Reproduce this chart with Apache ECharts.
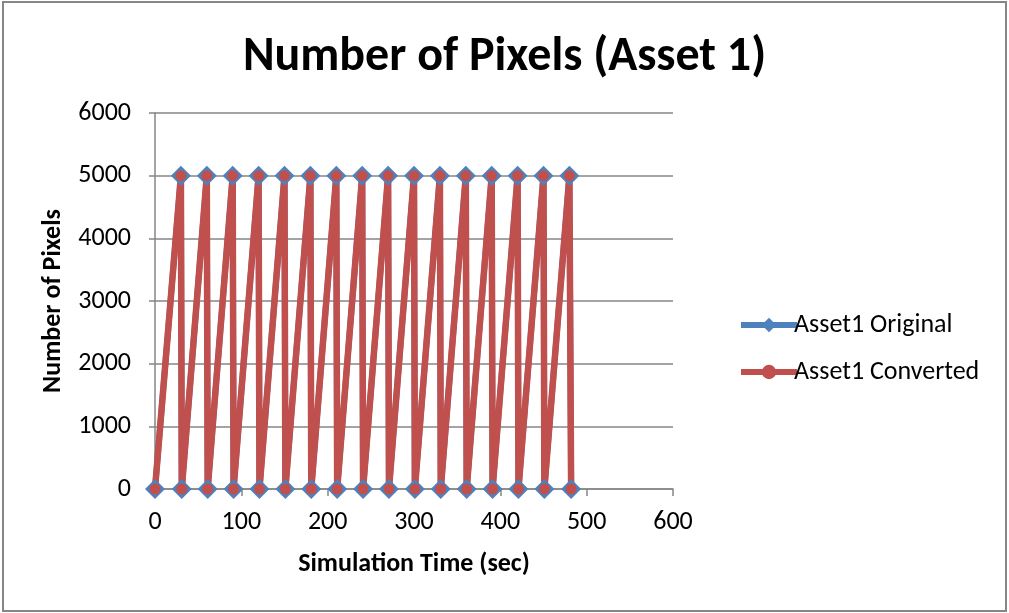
<!DOCTYPE html>
<html>
<head>
<meta charset="utf-8">
<script src="https://cdn.jsdelivr.net/npm/echarts@6/dist/echarts.min.js"></script>
<style>
  html, body { margin: 0; padding: 0; background: #fff; }
  #frame { position: absolute; left: 2px; top: 1px; width: 1005px; height: 611px;
           box-sizing: border-box; border: 2px solid #868686; }
  #chart { position: absolute; left: 0; top: 0; width: 1009px; height: 613px; }
</style>
</head>
<body>
<div id="frame"></div>
<div id="chart"></div>
<script>
// Simulation times (sec) and pixel counts for Asset 1
const timeSec = [0, 30, 31, 60, 61, 90, 91, 120, 121, 150, 151, 180, 181, 210, 211, 240, 241,
                 270, 271, 300, 301, 330, 331, 360, 361, 390, 391, 420, 421, 450, 451, 480, 482];
const originalPixels = [0, 5000, 0, 5000, 0, 5000, 0, 5000, 0, 5000, 0, 5000, 0, 5000, 0, 5000, 0,
                        5000, 0, 5000, 0, 5000, 0, 5000, 0, 5000, 0, 5000, 0, 5000, 0, 5000, 0];
const convertedPixels = [0, 5000, 0, 5000, 0, 5000, 0, 5000, 0, 5000, 0, 5000, 0, 5000, 0, 5000, 0,
                         5000, 0, 5000, 0, 5000, 0, 5000, 0, 5000, 0, 5000, 0, 5000, 0, 5000, 0];
const seriesNames = ['Asset1 Original', 'Asset1 Converted'];

const pairs = (xs, ys) => xs.map((x, i) => [x, ys[i]]);
const font = 'Carlito, Calibri, "Open Sans", sans-serif';

const chart = echarts.init(document.getElementById('chart'));
chart.setOption({
  animation: false,
  title: {
    text: 'Number of Pixels (Asset 1)',
    left: 'center',
    top: 29,
    textStyle: { fontFamily: font, fontSize: 48, fontWeight: 'bold', color: '#000' }
  },
  grid: { left: 155, right: 336, top: 113, bottom: 124 },
  legend: {
    orient: 'vertical',
    left: 733,
    top: 307,
    itemWidth: 56,
    itemHeight: 18,
    itemGap: 21,
    lineStyle: { width: 6 },
    textStyle: { fontFamily: font, fontSize: 26, color: '#000', padding: [0, 0, 0, -8] },
    data: seriesNames
  },
  xAxis: {
    type: 'value',
    min: 0, max: 600, interval: 100,
    name: 'Simulation Time (sec)',
    nameLocation: 'middle',
    nameGap: 62,
    nameTextStyle: { fontFamily: font, fontSize: 26, fontWeight: 'bold', color: '#000' },
    axisLine: { show: true, lineStyle: { color: '#868686', width: 1.5 } },
    axisTick: { show: true, length: 7, lineStyle: { color: '#868686', width: 1.5 } },
    axisLabel: { fontFamily: font, fontSize: 26, color: '#000', margin: 20 },
    splitLine: { show: false }
  },
  yAxis: {
    type: 'value',
    min: 0, max: 6000, interval: 1000,
    name: 'Number of Pixels',
    nameLocation: 'middle',
    nameGap: 89,
    nameTextStyle: { fontFamily: font, fontSize: 26, fontWeight: 'bold', color: '#000' },
    axisLine: { show: true, lineStyle: { color: '#868686', width: 1.5 } },
    axisTick: { show: true, length: 6, lineStyle: { color: '#868686', width: 1.5 } },
    axisLabel: { fontFamily: font, fontSize: 26, color: '#000', margin: 24, formatter: v => String(v) },
    splitLine: { show: true, lineStyle: { color: '#868686', width: 1.5 } }
  },
  series: [
    {
      name: seriesNames[0],
      type: 'line',
      data: pairs(timeSec, originalPixels),
      symbol: 'diamond',
      symbolSize: 20,
      lineStyle: { color: '#4f81bd', width: 6 },
      itemStyle: { color: '#4f81bd' }
    },
    {
      name: seriesNames[1],
      type: 'line',
      data: pairs(timeSec, convertedPixels),
      symbol: 'circle',
      symbolSize: 11,
      lineStyle: { color: '#c0504d', width: 6.5 },
      itemStyle: { color: '#c0504d' }
    }
  ]
});
</script>
</body>
</html>
